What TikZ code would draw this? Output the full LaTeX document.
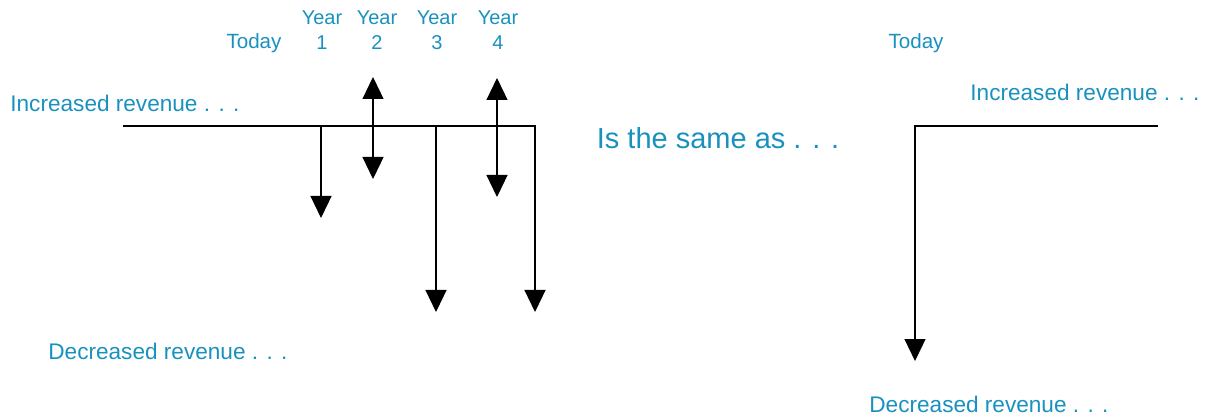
\documentclass[tikz,border=0pt]{standalone}
\usepackage{fontspec}
\setmainfont{Liberation Sans}
\usetikzlibrary{arrows.meta}
\definecolor{revblue}{RGB}{25,145,190}

\begin{document}
\begin{tikzpicture}[x=0.5pt,y=-0.5pt,
        lbl/.style = {text=revblue, inner sep=0pt, align=center, font=\fontsize{10}{12.5}\selectfont},
        rev/.style = {text=revblue, inner sep=0pt, anchor=west, font=\fontsize{11.3}{13}\selectfont},
        flow/.style = {line width=0.6pt, -{Triangle[width=10.5pt,length=11pt]}},
        both/.style = {line width=0.6pt, {Triangle[width=10.5pt,length=11pt]}-{Triangle[width=10.5pt,length=11pt]}}]
        \useasboundingbox (0,0) rectangle (1208,416);
        % time labels
        \node[lbl, font=\fontsize{10.3}{12.5}\selectfont] (today) at (254,43) {Today};
        \node[lbl] (y1) at (322,30) {Year\\1};
        \node[lbl] (y2) at (377,30) {Year\\2};
        \node[lbl] (y3) at (437,30) {Year\\3};
        \node[lbl] (y4) at (498,30) {Year\\4};
        \node[rev] (incL) at (10,103) {Increased revenue . . .};
        \node[rev] (decL) at (48,351) {Decreased revenue . . .};
        % left cash flows
        \coordinate (s0) at (123,126);
        \coordinate (c0) at (535,126);
        \coordinate (e0) at (535,312);
        \coordinate (s1) at (321,126);
        \coordinate (e1) at (321,218);
        \coordinate (u2) at (373,77);
        \coordinate (e2) at (373,179);
        \coordinate (s3) at (436,126);
        \coordinate (e3) at (436,312);
        \coordinate (u4) at (497,78);
        \coordinate (e4) at (497,197);
        \draw[flow] (s0) -- (c0) -- (e0);
        \draw[flow] (s1) -- (e1);
        \draw[both] (u2) -- (e2);
        \draw[flow] (s3) -- (e3);
        \draw[both] (u4) -- (e4);
        % middle
        \node[text=revblue, inner sep=0pt, font=\fontsize{14.5}{17}\selectfont] (same) at (718,138) {Is the same as . . .};
        % right cash flow
        \node[lbl, font=\fontsize{10.3}{12.5}\selectfont] (todayR) at (916,43) {Today};
        \node[rev] (incR) at (970,92) {Increased revenue . . .};
        \node[rev] (decR) at (869,404) {Decreased revenue . . .};
        \coordinate (sR) at (1158,126);
        \coordinate (cR) at (915,126);
        \coordinate (eR) at (915,361);
        \draw[flow] (sR) -- (cR) -- (eR);
\end{tikzpicture}
\end{document}
